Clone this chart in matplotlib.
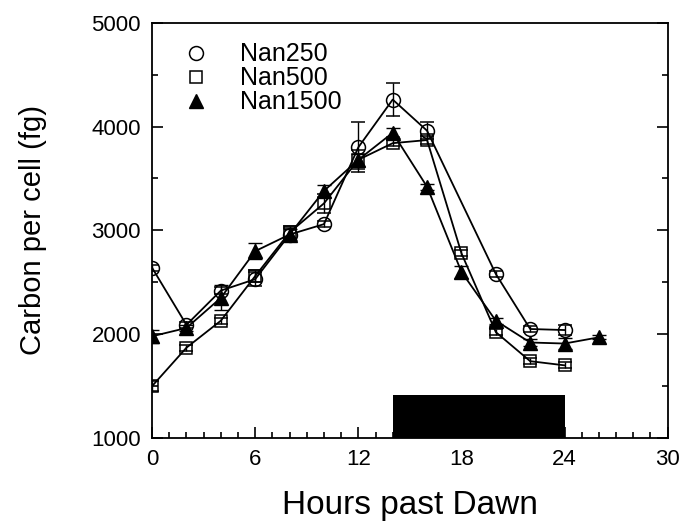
import numpy as np
from matplotlib import pyplot as plt
from matplotlib.lines import Line2D
from matplotlib.ticker import MultipleLocator

plt.rcParams['font.family'] = ['Liberation Sans', 'DejaVu Sans']

hours_250 = [0, 2, 4, 6, 8, 10, 12, 14, 16, 20, 22, 24]
carbon_250 = [2640, 2090, 2420, 2530, 2960, 3060, 3800, 4260, 3960, 2580, 2050, 2040]
err_250 = [30, 30, 30, 70, 60, 30, 240, 160, 80, 30, 30, 50]

hours_500 = [0, 2, 4, 6, 8, 10, 12, 14, 16, 18, 20, 22, 24]
carbon_500 = [1500, 1870, 2130, 2560, 2980, 3260, 3680, 3840, 3870, 2780, 2020, 1740, 1700]
err_500 = [50, 30, 30, 60, 60, 90, 90, 30, 40, 30, 30, 30, 30]

hours_1500 = [0, 2, 4, 6, 8, 10, 12, 14, 16, 18, 20, 22, 24, 26]
carbon_1500 = [1980, 2060, 2350, 2800, 2960, 3380, 3680, 3940, 3420, 2600, 2130, 1920, 1910, 1970]
err_1500 = [60, 30, 120, 80, 50, 60, 60, 50, 30, 60, 30, 30, 50, 20]

dark_start, dark_end, dark_top = 14, 24, 1410

fig = plt.figure(figsize=(6.82, 5.29), dpi=100)
ax = fig.add_axes([0.223, 0.172, 0.756, 0.785])

# dark period bar
ax.fill_between([dark_start, dark_end], 1000, dark_top, color='black',
                linewidth=0, zorder=1)

common = dict(color='black', lw=1.3, capsize=5, elinewidth=1, capthick=1, zorder=3)
ax.errorbar(hours_250, carbon_250, yerr=err_250, marker='o', mfc='none', mew=1.1,
            ms=10, **common)
ax.errorbar(hours_500, carbon_500, yerr=err_500, marker='s', mfc='none', mew=1.1,
            ms=8, **common)
ax.errorbar(hours_1500, carbon_1500, yerr=err_1500, marker='^', mfc='black',
            ms=10, **common)

ax.set_xlim(0, 30)
ax.set_ylim(1000, 5000)
ax.xaxis.set_major_locator(MultipleLocator(6))
ax.xaxis.set_minor_locator(MultipleLocator(1))
ax.yaxis.set_major_locator(MultipleLocator(1000))
ax.yaxis.set_minor_locator(MultipleLocator(500))
ax.tick_params(which='both', direction='in', right=True, labelsize=16, width=1.2, pad=8)
ax.tick_params(which='major', length=8)
ax.tick_params(which='minor', length=4)
for s in ax.spines.values():
    s.set_linewidth(1.3)

ax.set_xlabel('Hours past Dawn', fontsize=24, labelpad=14)
ax.set_ylabel('Carbon per cell (fg)', fontsize=21, labelpad=32)

handles = [
    Line2D([], [], ls='none', marker='o', mfc='none', mec='black', mew=1.1, ms=10),
    Line2D([], [], ls='none', marker='s', mfc='none', mec='black', mew=1.1, ms=8),
    Line2D([], [], ls='none', marker='^', mfc='black', mec='black', ms=10),
]
ax.legend(handles, ['Nan250', 'Nan500', 'Nan1500'], loc='upper left',
          bbox_to_anchor=(0.015, 0.995), frameon=False, fontsize=18,
          handletextpad=1.0, labelspacing=0.0, handlelength=1.5, borderpad=0.2)

fig.savefig('out.png', dpi=100)
